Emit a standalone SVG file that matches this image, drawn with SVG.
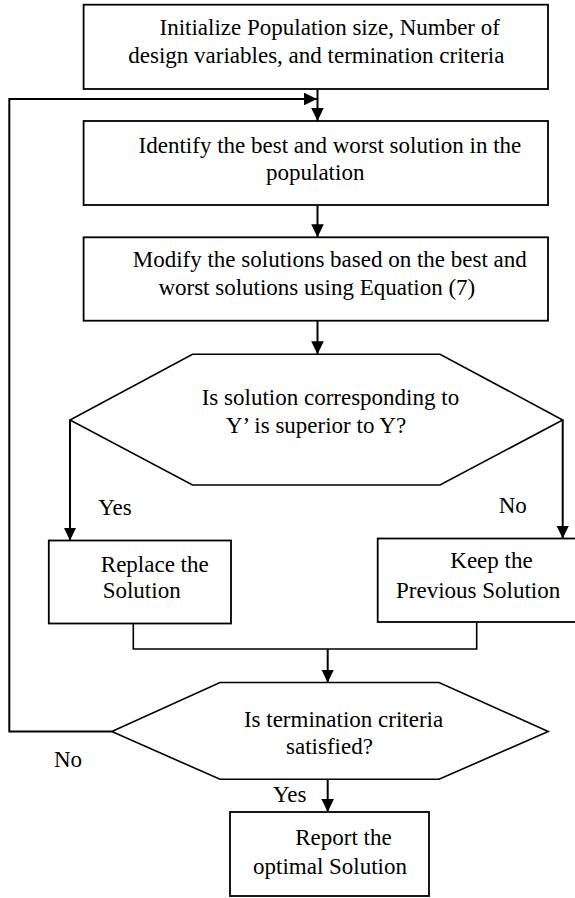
<svg xmlns="http://www.w3.org/2000/svg" width="575" height="898" viewBox="0 0 575 898">
  <style>
    .box { fill: #ffffff; stroke: #000000; stroke-width: 1.8; }
    .hex { fill: #ffffff; stroke: #000000; stroke-width: 1.6; }
    .wire { fill: none; stroke: #000000; stroke-width: 2; }
    .link { fill: none; stroke: #000000; stroke-width: 1.6; }
    text { font-family: "Liberation Serif", "Times New Roman", serif; font-size: 23px; fill: #000000; }
  </style>
  <defs>
    <marker id="head" viewBox="0 0 13 12.6" refX="13" refY="6.3" markerWidth="13" markerHeight="12.6" markerUnits="userSpaceOnUse" orient="auto">
      <path d="M0,0 L13,6.3 L0,12.6 Z" fill="#000000"/>
    </marker>
  </defs>

  <rect width="575" height="898" fill="#ffffff"/>

  <!-- connectors -->
  <g id="connectors">
    <!-- start -> identify -->
    <path class="wire" d="M317.5,89 V121" marker-end="url(#head)"/>
    <!-- loop back when termination criteria not met -->
    <path class="wire" d="M111.8,731.5 H9.3 V99 H317" marker-end="url(#head)"/>
    <!-- identify -> modify -->
    <path class="wire" d="M317.5,205 V237.3" marker-end="url(#head)"/>
    <!-- modify -> comparison -->
    <path class="wire" d="M317.5,320.7 V354.3" marker-end="url(#head)"/>
    <!-- yes / no branches -->
    <path class="wire" d="M70,420 V540.5" marker-end="url(#head)"/>
    <path class="wire" d="M562.7,420 V538.5" marker-end="url(#head)"/>
    <!-- merge of both branches -->
    <path class="link" d="M133.3,623.5 V649 H476.7 V622"/>
    <path class="wire" d="M327.7,649 V682.5" marker-end="url(#head)"/>
    <!-- termination -> report -->
    <path class="wire" d="M327.7,779.3 V812" marker-end="url(#head)"/>
  </g>

  <g id="init">
    <rect class="box" x="83.6" y="4.7" width="464.4" height="84.3"/>
    <text x="159.5" y="35">Initialize Population size, Number of</text>
    <text x="128.3" y="63.3">design variables, and termination criteria</text>
  </g>

  <g id="identify">
    <rect class="box" x="83.6" y="121" width="464.4" height="84"/>
    <text x="138.6" y="152.7">Identify the best and worst solution in the</text>
    <text x="266" y="180">population</text>
  </g>

  <g id="modify">
    <rect class="box" x="83.6" y="237.3" width="464.4" height="83.4"/>
    <text x="132.7" y="267">Modify the solutions based on the best and</text>
    <text x="158.4" y="295">worst solutions using Equation (7)</text>
  </g>

  <g id="compare">
    <polygon class="hex" points="192.5,354.3 440,354.3 562.7,420 440,485 192.5,485 70,420"/>
    <text x="201.7" y="405">Is solution corresponding to</text>
    <text x="226" y="433.3">Y’ is superior to Y?</text>
  </g>

  <g id="branch-labels">
    <text x="98.3" y="515">Yes</text>
    <text x="498.7" y="513.3">No</text>
  </g>

  <g id="replace">
    <rect class="box" x="48.8" y="540.5" width="182.2" height="83"/>
    <text x="100.8" y="571.7">Replace the</text>
    <text x="102.7" y="598.3">Solution</text>
  </g>

  <g id="keep">
    <rect class="box" x="377.7" y="538.5" width="212" height="83.5"/>
    <text x="450.3" y="568.3">Keep the</text>
    <text x="396" y="598">Previous Solution</text>
  </g>

  <g id="terminate">
    <polygon class="hex" points="220,682.5 439,682.5 548.2,731.5 439,779.3 220,779.3 111.8,731.5"/>
    <text x="243.9" y="726.7">Is termination criteria</text>
    <text x="286" y="754">satisfied?</text>
  </g>

  <g id="terminate-labels">
    <text x="54" y="766.7">No</text>
    <text x="273" y="801.7">Yes</text>
  </g>

  <g id="report">
    <rect class="box" x="230" y="812" width="199" height="84"/>
    <text x="295.2" y="845">Report the</text>
    <text x="253" y="874">optimal Solution</text>
  </g>
</svg>
